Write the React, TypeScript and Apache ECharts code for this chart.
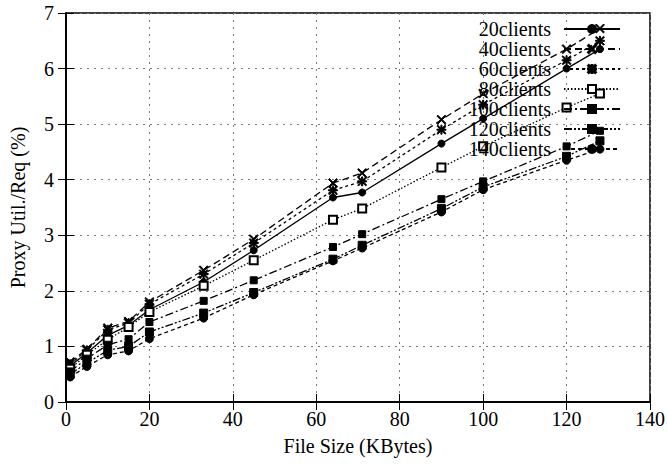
import React, { useEffect, useRef } from "react";
import * as echarts from "echarts";

const fileSizes = [1, 5, 10, 15, 20, 33, 45, 64, 71, 90, 100, 120, 128];

const clients20 = [0.65, 0.88, 1.2, 1.38, 1.66, 2.16, 2.73, 3.68, 3.77, 4.65, 5.1, 6.0, 6.35];
const clients40 = [0.72, 0.95, 1.33, 1.45, 1.8, 2.37, 2.93, 3.94, 4.12, 5.08, 5.55, 6.35, 6.72];
const clients60 = [0.68, 0.93, 1.3, 1.42, 1.76, 2.3, 2.86, 3.81, 3.97, 4.9, 5.35, 6.15, 6.5];
const clients80 = [0.6, 0.85, 1.12, 1.35, 1.62, 2.09, 2.55, 3.28, 3.48, 4.22, 4.6, 5.3, 5.55];
const clients100 = [0.55, 0.78, 1.03, 1.13, 1.44, 1.82, 2.19, 2.79, 3.02, 3.65, 3.97, 4.6, 4.88];
const clients120 = [0.5, 0.7, 0.93, 1.0, 1.26, 1.6, 1.97, 2.57, 2.82, 3.48, 3.87, 4.42, 4.7];
const clients140 = [0.45, 0.64, 0.85, 0.92, 1.14, 1.51, 1.93, 2.54, 2.77, 3.42, 3.82, 4.35, 4.55];

const seriesNames = ["20clients", "40clients", "60clients", "80clients", "100clients", "120clients", "140clients"];

const CROSS = "path://M1,0L5,4L9,0L10,1L6,5L10,9L9,10L5,6L1,10L0,9L4,5L0,1Z";
const STAR =
  "path://M1,0L5,4L9,0L10,1L6,5L10,9L9,10L5,6L1,10L0,9L4,5L0,1Z M4.4,0L5.6,0L5.6,10L4.4,10Z M0,4.4L10,4.4L10,5.6L0,5.6Z";

const FONT = "Liberation Serif";

export default function App() {
  const ref = useRef<HTMLDivElement>(null);
  useEffect(() => {
    if (!ref.current) return;
    const chart = echarts.init(ref.current, undefined, { renderer: "svg" });
    const data = [clients20, clients40, clients60, clients80, clients100, clients120, clients140];
    const styles: any[] = [
      { dash: "solid", symbol: "circle", size: 7 },
      { dash: [7, 4], symbol: CROSS, size: 9 },
      { dash: [3, 3], symbol: STAR, size: 9 },
      { dash: [1.5, 2], symbol: "emptyRect", size: 8 },
      { dash: [8, 3, 2, 3], symbol: "rect", size: 7 },
      { dash: [8, 2, 2, 2, 2, 2], symbol: "rect", size: 8 },
      { dash: [4, 3], symbol: "circle", size: 8 },
    ];
    const series = seriesNames.map((name, i) => ({
      name,
      type: "line",
      xAxisIndex: 0,
      yAxisIndex: 0,
      data: fileSizes.map((x, j) => [x, data[i][j]]),
      symbol: styles[i].symbol,
      symbolSize: styles[i].size,
      showAllSymbol: true,
      lineStyle: { color: "#000", width: 1.3, type: styles[i].dash },
      itemStyle: { color: "#000", borderColor: "#000", borderWidth: 1 },
      emphasis: { disabled: true },
    }));
    const axisCommon = {
      axisLine: { show: true, lineStyle: { color: "#000", width: 1.5 } },
      axisTick: { show: true, inside: true, length: 8, lineStyle: { color: "#000", width: 1 } },
    };
    chart.setOption({
      animation: false,
      textStyle: { fontFamily: FONT },
      grid: { left: 66, right: 15, top: 13, bottom: 68, show: true, borderColor: "#000", borderWidth: 1.5 },
      legend: {
        orient: "vertical",
        right: 42,
        top: 14,
        align: "right",
        itemWidth: 56,
        itemHeight: 10,
        itemGap: 0,
        data: seriesNames,
        textStyle: { fontFamily: FONT, fontSize: 20, color: "#000", padding: [0, 8, 0, 0], lineHeight: 19 },
      },
      xAxis: [
        {
          type: "value",
          min: 0,
          max: 140,
          interval: 20,
          name: "File Size (KBytes)",
          nameLocation: "middle",
          nameGap: 34,
          nameTextStyle: { fontFamily: FONT, fontSize: 20, color: "#000" },
          axisLabel: { fontFamily: FONT, fontSize: 20, color: "#000", margin: 7 },
          splitLine: { show: true, lineStyle: { color: "#777", type: [2, 5], width: 1 } },
          ...axisCommon,
        },
        {
          type: "value",
          position: "top",
          min: 0,
          max: 140,
          interval: 20,
          axisLabel: { show: false },
          splitLine: { show: false },
          ...axisCommon,
        },
      ],
      yAxis: [
        {
          type: "value",
          min: 0,
          max: 7,
          interval: 1,
          name: "Proxy Util./Req (%)",
          nameLocation: "middle",
          nameGap: 38,
          nameTextStyle: { fontFamily: FONT, fontSize: 20, color: "#000" },
          axisLabel: { fontFamily: FONT, fontSize: 20, color: "#000", margin: 12 },
          splitLine: { show: true, lineStyle: { color: "#777", type: [2, 5], width: 1 } },
          ...axisCommon,
        },
        {
          type: "value",
          position: "right",
          min: 0,
          max: 7,
          interval: 1,
          axisLabel: { show: false },
          splitLine: { show: false },
          ...axisCommon,
        },
      ],
      series,
    });
    return () => chart.dispose();
  }, []);
  return <div ref={ref} style={{ width: 668, height: 470, position: "absolute", left: 0, top: 0 }} />;
}
